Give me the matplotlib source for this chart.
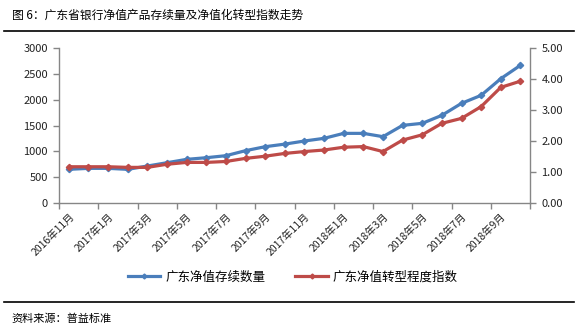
import matplotlib
matplotlib.use("Agg")
import matplotlib.pyplot as plt
from matplotlib.lines import Line2D

plt.rcParams['font.family'] = ['Noto Sans CJK SC', 'DejaVu Sans']

# monthly series, 2016-11 .. 2018-10
months = ["2016年11月", "2016年12月", "2017年1月", "2017年2月", "2017年3月", "2017年4月",
          "2017年5月", "2017年6月", "2017年7月", "2017年8月", "2017年9月", "2017年10月",
          "2017年11月", "2017年12月", "2018年1月", "2018年2月", "2018年3月", "2018年4月",
          "2018年5月", "2018年6月", "2018年7月", "2018年8月", "2018年9月", "2018年10月"]
product_count = [652, 671, 671, 652, 716, 780, 845, 877, 916, 1013, 1090, 1140,
                 1200, 1252, 1348, 1348, 1284, 1503, 1542, 1697, 1929, 2084, 2406, 2665]
transform_index = [1.17, 1.17, 1.17, 1.15, 1.15, 1.25, 1.31, 1.31, 1.34, 1.44, 1.51, 1.60,
                   1.66, 1.71, 1.80, 1.82, 1.66, 2.03, 2.20, 2.57, 2.73, 3.11, 3.73, 3.93]
left_ticks = [0, 500, 1000, 1500, 2000, 2500, 3000]
right_ticks = [0, 1, 2, 3, 4, 5]

blue = "#4A7EBB"
red = "#BE4B48"
axis_gray = "#868686"
text_color = "#222222"

fig = plt.figure(figsize=(5.8, 3.28), dpi=100)
ax = fig.add_axes([0.1017, 0.381, 0.8125, 0.4727])
ax2 = ax.twinx()

x = list(range(len(months)))
ax.plot(x, product_count, color=blue, lw=2.3, marker="D", ms=3.2,
        solid_capstyle="round", zorder=3)
ax2.plot(x, transform_index, color=red, lw=2.3, marker="D", ms=3.2,
         solid_capstyle="round", zorder=3)

ax.set_xlim(-0.5, len(months) - 0.5)
ax.set_ylim(0, 3000)
ax2.set_ylim(0, 5)

ax.set_yticks(left_ticks)
ax.set_yticklabels([str(v) for v in left_ticks])
ax2.set_yticks(right_ticks)
ax2.set_yticklabels([f"{v:.2f}" for v in right_ticks])

# labels every second month, tick marks on category boundaries
ax.set_xticks(x[::2])
ax.set_xticklabels(months[::2], rotation=45, ha="right", va="top",
                   rotation_mode="anchor", fontsize=7.5, color=text_color)
ax.set_xticks([i - 0.5 for i in range(0, len(months) + 1, 2)], minor=True)
ax.tick_params(axis="x", which="major", length=0, pad=6)
ax.tick_params(axis="x", which="minor", length=4, color=axis_gray, width=1)
ax.tick_params(axis="y", length=4, color=axis_gray, width=1, labelsize=8,
               labelcolor=text_color, pad=4)
ax2.tick_params(axis="y", length=4, color=axis_gray, width=1, labelsize=8,
                labelcolor=text_color, pad=4)

for a in (ax, ax2):
    a.spines["top"].set_visible(False)
    for s in ("left", "right", "bottom"):
        a.spines[s].set_color(axis_gray)
        a.spines[s].set_linewidth(1)
ax.spines["right"].set_visible(False)
ax2.spines["left"].set_visible(False)
ax2.spines["bottom"].set_visible(False)

handles = [
    Line2D([], [], color=blue, lw=2.3, marker="D", ms=2.5),
    Line2D([], [], color=red, lw=2.3, marker="D", ms=2.5),
]
fig.legend(handles, ["广东净值存续数量", "广东净值转型程度指数"], loc="center",
           bbox_to_anchor=(0.505, 0.155), ncol=2, frameon=False, fontsize=9,
           handlelength=2.6, columnspacing=2.4, handletextpad=0.4)

# header and footer rules
fig.add_artist(Line2D([0.007, 0.99], [0.905, 0.905], color="black", lw=1.2))
fig.add_artist(Line2D([0.007, 0.99], [0.079, 0.079], color="black", lw=1.2))
fig.text(0.02, 0.953, "图 6：广东省银行净值产品存续量及净值化转型指数走势",
         fontsize=8.5, va="center", ha="left", color="black")
fig.text(0.02, 0.027, "资料来源：普益标准", fontsize=8, va="center", ha="left",
         color="black")

fig.savefig("out.png", dpi=100)
